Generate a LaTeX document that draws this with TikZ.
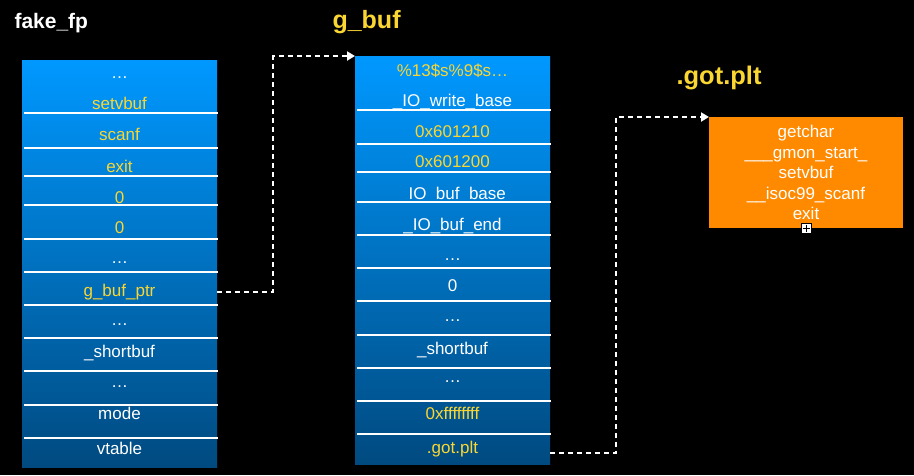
\documentclass[tikz,border=0pt]{standalone}
\usepackage{fontspec}
\setmainfont{Liberation Sans}
\usetikzlibrary{arrows.meta}
\definecolor{colTop}{RGB}{0,152,255}
\definecolor{colBot}{RGB}{0,74,128}
\definecolor{txtYel}{RGB}{250,214,50}
\definecolor{gotOrange}{RGB}{255,138,0}
\begin{document}
\begin{tikzpicture}[x=1pt,y=-1pt,line cap=butt,
	col/.style={rectangle,inner sep=0pt,minimum width=195pt,top color=colTop,bottom color=colBot,anchor=north west},
	cell/.style={font=\fontsize{17}{19}\selectfont,anchor=base},
	sep/.style={white,line width=1.1pt},
	title/.style={font=\fontsize{#1}{#1}\selectfont\bfseries,anchor=base west},
	link/.style={white,line width=2pt,dash pattern=on 5pt off 4pt,-{Triangle[length=8pt,width=9pt]}}]
	\fill[black] (0,0) rectangle (914,475);
	\useasboundingbox (0,0) rectangle (914,475);
	% titles
	\node[title=21,text=white] (fptitle) at (11,28) {fake\_fp};
	\node[title=25,text=txtYel] (gbtitle) at (329,28) {g\_buf};
	\node[title=25.5,text=txtYel] (gottitle) at (673,84) {.got.plt};
	% fake_fp column
	\node[col,minimum height=407pt] (fp) at (22,60) {};
	\foreach \y in {113,148,176,205,239,272,305,338,371,405,438}
		\draw[sep] (24,\y) -- (218,\y);
	\foreach \y/\t/\c [count=\i] in {78/…/white,109/setvbuf/txtYel,140/scanf/txtYel,172/exit/txtYel,
		203/0/txtYel,233/0/txtYel,263/…/white,296/g\_buf\_ptr/txtYel,325/…/white,
		357/\_shortbuf/white,387/…/white,419/mode/white,454/vtable/white}
		\node[cell,text=\c] (fp\i) at (119.5,\y) {\t};
	% g_buf column
	\node[col,minimum height=408pt] (gb) at (355,56) {};
	\foreach \y in {110,144,172,202,235,268,301,335,368,401,434}
		\draw[sep] (357,\y) -- (551,\y);
	\foreach \y/\t/\c [count=\i] in {76/\%13\$s\%9\$s…/txtYel,106/\_IO\_write\_base/white,
		137/0x601210/txtYel,167/0x601200/txtYel,199/\_IO\_buf\_base/white,230/\_IO\_buf\_end/white,
		260/…/white,291/0/white,321/…/white,354/\_shortbuf/white,382/…/white,
		419/0xffffffff/txtYel,453/.got.plt/txtYel}
		\node[cell,text=\c] (gb\i) at (452.5,\y) {\t};
	% .got.plt box
	\node[rectangle,fill=gotOrange,minimum width=194pt,minimum height=111pt,anchor=north west] (got) at (709,117) {};
	\foreach \y/\t [count=\i] in {137/getchar,158/\_\_\_gmon\_start\_,178/setvbuf,199/\_\_isoc99\_scanf,219/exit}
		\node[cell,text=white] (got\i) at (806,\y) {\t};
	\node[draw=black,fill=white,minimum size=10pt,inner sep=0pt] (plusbox) at (806,228) {};
	\draw[black,line width=1pt] ([yshift=3.5pt]plusbox.center) -- ([yshift=-3.5pt]plusbox.center)
		([xshift=-3.5pt]plusbox.center) -- ([xshift=3.5pt]plusbox.center);
	% pointers
	\draw[link] (fp.east |- fp8.center) -- ++(56,0) |- (gb.north west);
	\draw[link] (gb.east |- gb13.base) -- ++(66,0) |- (got.north west);
\end{tikzpicture}
\end{document}
